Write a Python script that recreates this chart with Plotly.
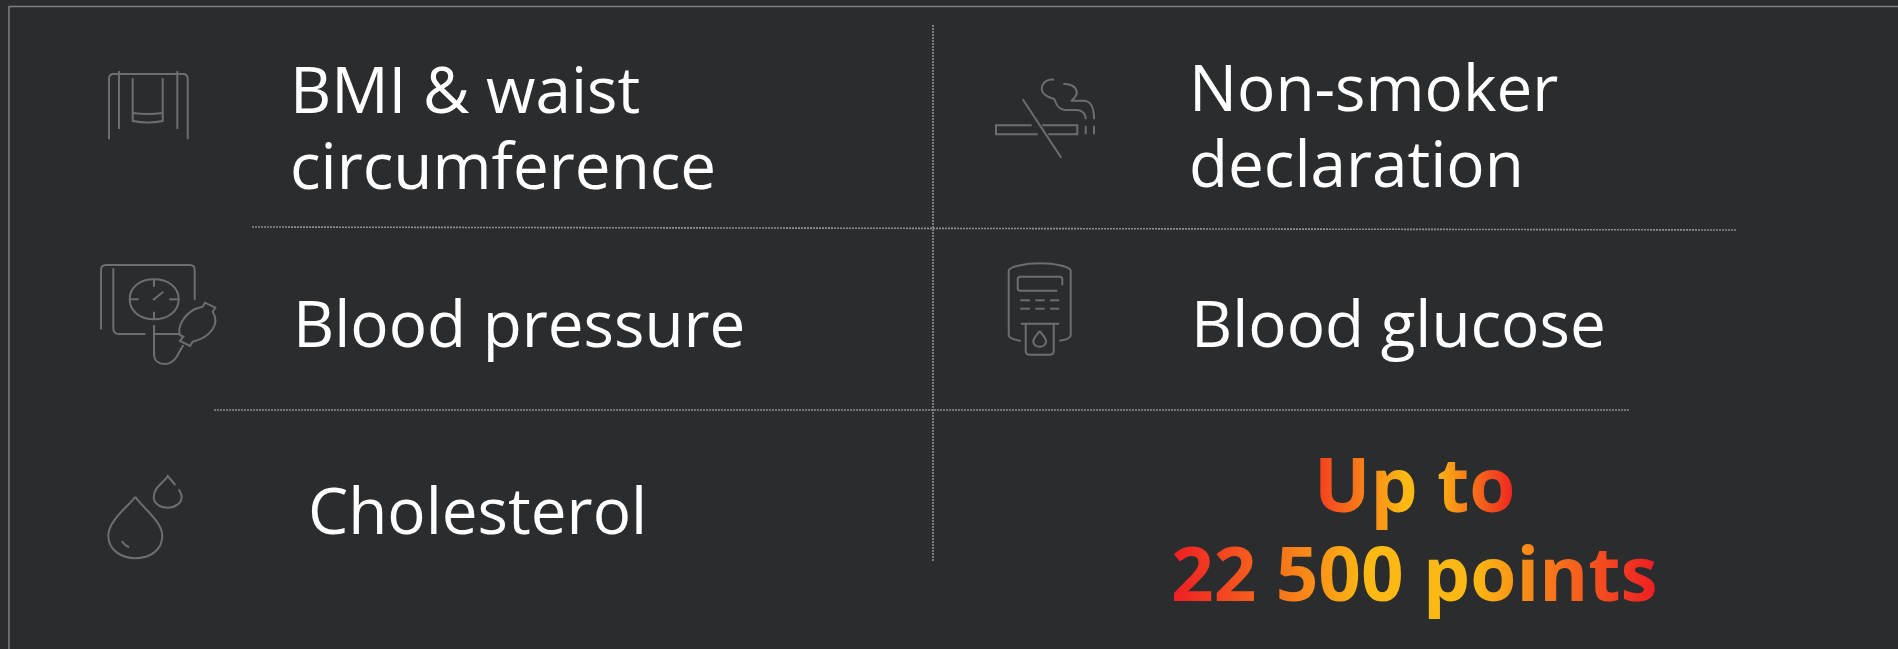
import re
import plotly.graph_objects as go

W, H = 1898, 649
BG = "#2b2c2e"
ICON = "#6e6e6e"
FRAME = "#7f7f7f"
DOT = "#8f8f8f"

labels = ["BMI & waist", "circumference", "Non-smoker", "declaration",
          "Blood pressure", "Blood glucose", "Cholesterol"]
label_x = [288, 288, 1187, 1187, 290.5, 1189, 306]
label_y = [88.5, 164.5, 86, 162, 322.5, 322.5, 509]
headline = ["Up to", "22 500 points"]
headline_y = [483, 571.5]
headline_x = 1414.5


def tr(path, ox, oy):
    nums = iter(re.findall(r"-?\d+\.?\d*|[A-Z]", path))
    out = []
    for tok in nums:
        if tok.isalpha():
            out.append(tok)
        else:
            x = float(tok) / 3 + ox
            y = float(next(nums)) / 3 + oy
            out.append(f"{x:.1f},{y:.1f}")
    return " ".join(out)


icons = [
    (0, 0, [
        "M327,418 L327,236 Q327,222 341,222 L549,222 Q563,222 563,236 L563,418",
        "M357,213 L357,387", "M532,213 L532,387",
        "M398,235 L398,363 Q443,372 488,363 L488,235",
        "M398,339 Q443,345 488,339",
    ]),
    (80, 240, [
        "M63,268 L63,90 Q63,75 78,75 L330,75 Q344,75 344,90 L344,180",
        "M100,85 L100,265 Q100,282 117,282 L196,282",
        "M149,178 C149,140 182,118 222,118 C262,118 296,140 296,178 C296,215 262,238 222,238 C182,238 149,215 149,178 Z",
        "M222,118 L222,140", "M222,215 L222,238", "M149,178 L176,178", "M268,178 L296,178",
        "M222,178 L250,155",
        "M218,178 L226,178",
        "M222,255 L222,345 Q224,372 255,372 Q275,372 290,350 L310,315",
        "M222,282 L300,282",
        "M310,290 L300,285 C292,262 310,225 345,207 L368,200 L375,188 L406,203 L398,215 C420,250 395,290 338,305 L330,318 L300,303 Z",
    ]),
    (80, 450, [
        "M166,140 C150,165 85,210 85,257 C85,300 125,325 166,325 C210,325 247,300 247,257 C247,215 185,170 166,140",
        "M125,273 Q135,287 147,292",
        "M286,105 L263,78 C250,100 221,112 221,140 C221,160 240,173 263,173 C285,173 305,160 305,140 C305,132 300,125 296,118",
    ]),
    (970, 60, [
        "M185,196 L78,196 L78,223 L203,223",
        "M217,196 L322,196 L322,223 L235,223",
        "M158,118 L274,293",
        "M347,197 L347,223", "M372,197 L372,223",
        "M252,59 C230,55 215,70 215,88 C215,105 235,112 252,117 C258,120 255,147 285,150 L320,150 C335,150 347,160 347,178",
        "M280,72 C300,70 318,80 320,95 C322,110 305,120 305,122 L340,122 C360,122 372,135 372,178",
    ]),
    (980, 250, [
        "M122,272 C105,270 86,265 86,255 L86,62 C86,52 130,40 180,40 C230,40 272,52 272,62 L272,255 C272,265 255,270 238,272",
        "M232,122 L120,122 Q113,122 113,115 L113,88 Q113,80 120,80 L240,80 Q247,80 247,88 L247,106",
        "M121,151 L150,151", "M166,151 L194,151", "M210,151 L238,151",
        "M121,176 L150,176", "M166,176 L194,176", "M210,176 L238,176",
        "M122,221 L238,221",
        "M137,221 L137,302 Q137,314 149,314 L209,314 Q221,314 221,302 L221,221",
        "M179,243 C172,255 160,262 160,274 C160,284 168,290 179,290 C190,290 198,284 198,274 C198,262 186,255 179,243",
    ]),
]

shapes = []
# frame
shapes.append(dict(type="line", x0=9, x1=9, y0=6, y1=H, line=dict(color=FRAME, width=1.5)))
shapes.append(dict(type="line", x0=9, x1=W, y0=6.5, y1=6.5, line=dict(color=FRAME, width=1.5)))
# dividers
for x0, y0, x1, y1 in [(933, 25, 933, 561), (252, 227, 1737, 230), (214, 410, 1630, 410)]:
    shapes.append(dict(type="line", x0=x0, x1=x1, y0=y0, y1=y1,
                       line=dict(color=DOT, width=1.6, dash="2px,1px")))
for ox, oy, paths in icons:
    for p in paths:
        shapes.append(dict(type="path", path=tr(p, ox, oy),
                           line=dict(color=ICON, width=2)))

FONT = "Open Sans"
annotations = []
for t, x, y in zip(labels, label_x, label_y):
    annotations.append(dict(text=t.replace("&", "&amp;"), x=x, y=y, xref="x", yref="y",
                            xanchor="left", yanchor="middle", showarrow=False,
                            font=dict(family=FONT, size=63.8, color="#ffffff")))
for t, y in zip(headline, headline_y):
    annotations.append(dict(text=f"<b>{t}</b>", x=headline_x, y=y, xref="x", yref="y",
                            xanchor="center", yanchor="middle", showarrow=False,
                            font=dict(family=FONT, size=74.6, color="#fb8c16")))

fig = go.Figure()
fig.update_layout(
    width=W, height=H, margin=dict(l=0, r=0, t=0, b=0),
    paper_bgcolor=BG, plot_bgcolor=BG, showlegend=False,
    xaxis=dict(range=[0, W], visible=False, fixedrange=True),
    yaxis=dict(range=[H, 0], visible=False, fixedrange=True),
    shapes=shapes, annotations=annotations,
)

POST = """
document.body.style.margin = '0';
document.body.style.background = '#2b2c2e';
document.body.style.overflow = 'hidden';
var gd = document.querySelector('.js-plotly-plot');
var svg = gd.querySelector('svg.main-svg');
var NS = 'http://www.w3.org/2000/svg';
var defs = document.createElementNS(NS, 'defs');
function grad(id, stops) {
  var g = document.createElementNS(NS, 'linearGradient');
  g.setAttribute('id', id);
  stops.forEach(function (s) {
    var st = document.createElementNS(NS, 'stop');
    st.setAttribute('offset', s[0]);
    st.setAttribute('stop-color', s[1]);
    g.appendChild(st);
  });
  defs.appendChild(g);
}
grad('hl0', [[0, '#f43a20'], [0.45, '#fdb913'], [0.6, '#fdb913'], [1, '#ef2022']]);
grad('hl1', [[0, '#ef1c24'], [0.4, '#fdb913'], [0.62, '#fdb913'], [1, '#ef1c24']]);
svg.insertBefore(defs, svg.firstChild);
gd.querySelectorAll('.annotation-text').forEach(function (t) {
  if (t.textContent === 'Up to') t.style.fill = 'url(#hl0)';
  if (t.textContent === '22 500 points') t.style.fill = 'url(#hl1)';
});
"""
fig.write_html("out.html", post_script=POST, config={"displayModeBar": False})
